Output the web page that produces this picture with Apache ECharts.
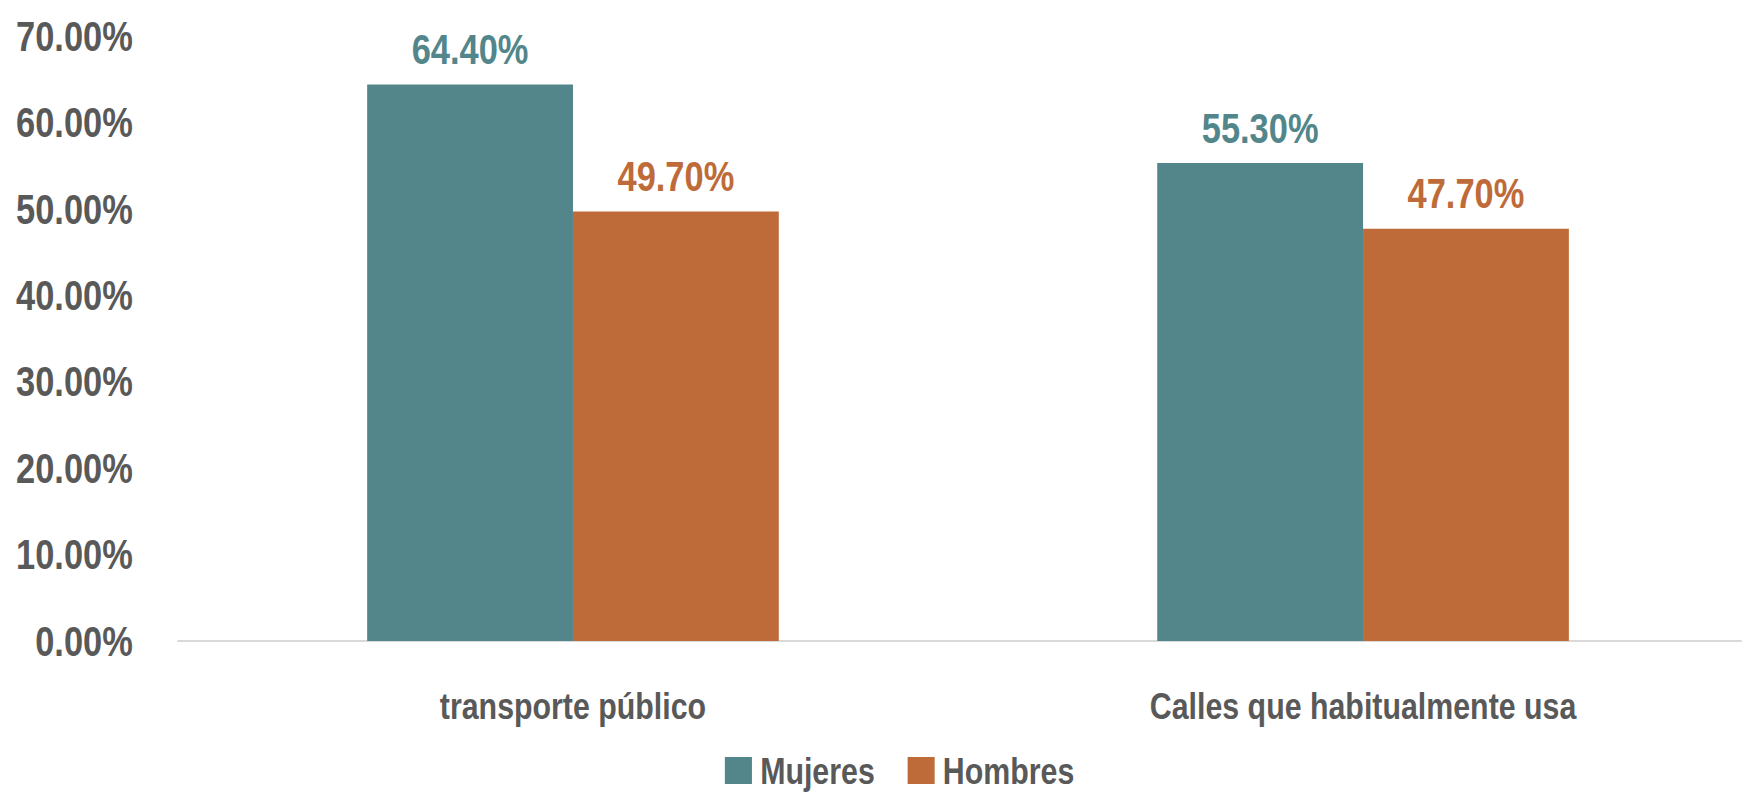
<!DOCTYPE html>
<html>
<head>
<meta charset="utf-8">
<script src="https://cdn.jsdelivr.net/npm/echarts@6/dist/echarts.min.js"></script>
<style>
  html, body { margin: 0; padding: 0; background: #fff; overflow: hidden; }
  /* no narrow font installed: draw wider and squeeze horizontally */
  #chart { width: 2124px; height: 794px; transform: scaleX(0.82); transform-origin: 0 0; }
</style>
</head>
<body>
<div id="chart"></div>
<script>
const categories = ['transporte público', 'Calles que habitualmente usa'];
const mujeres = [64.4, 55.3];
const hombres = [49.7, 47.7];
const seriesNames = ['Mujeres', 'Hombres'];

const SX = 0.82;
const X = v => Math.round(v / SX);
const FONT = '"Liberation Sans", Arial, sans-serif';
const TEAL = '#52868B';
const ORANGE = '#BE6B39';
const GRAY = '#595959';

const chart = echarts.init(document.getElementById('chart'), null, { renderer: 'svg' });

const pct = v => v.toFixed(2) + '%';

chart.setOption({
  animation: false,
  textStyle: { fontFamily: FONT },
  grid: { left: X(178), width: X(1580), top: 36, bottom: 153, outerBoundsMode: 'none', containLabel: false },
  legend: {
    left: X(721),
    bottom: 0,
    itemWidth: X(27),
    itemHeight: 27,
    itemGap: X(33),
    icon: 'rect',
    textStyle: { fontFamily: FONT, fontSize: 37, fontWeight: 'bold', color: GRAY, padding: [0, 0, 0, 5] },
    data: seriesNames
  },
  xAxis: {
    type: 'category',
    data: categories,
    axisLine: { lineStyle: { color: '#D9D9D9', width: 2 } },
    axisTick: { show: false },
    axisLabel: { fontFamily: FONT, fontSize: 37, fontWeight: 'bold', color: GRAY, margin: 46 }
  },
  yAxis: {
    type: 'value',
    min: 0,
    max: 70,
    interval: 10,
    splitLine: { show: false },
    axisLine: { show: false },
    axisTick: { show: false },
    axisLabel: {
      fontFamily: FONT, fontSize: 42, fontWeight: 'bold', color: GRAY, margin: X(45),
      formatter: v => pct(v)
    }
  },
  series: [
    {
      name: seriesNames[0],
      type: 'bar',
      data: mujeres,
      barWidth: X(206),
      barGap: '0%',
      itemStyle: { color: TEAL },
      label: {
        show: true, position: 'top', distance: 14,
        fontFamily: FONT, fontSize: 42, fontWeight: 'bold', color: TEAL,
        formatter: p => pct(p.value)
      }
    },
    {
      name: seriesNames[1],
      type: 'bar',
      data: hombres,
      barWidth: X(206),
      barGap: '0%',
      itemStyle: { color: ORANGE },
      label: {
        show: true, position: 'top', distance: 14,
        fontFamily: FONT, fontSize: 42, fontWeight: 'bold', color: ORANGE,
        formatter: p => pct(p.value)
      }
    }
  ]
});
</script>
</body>
</html>
